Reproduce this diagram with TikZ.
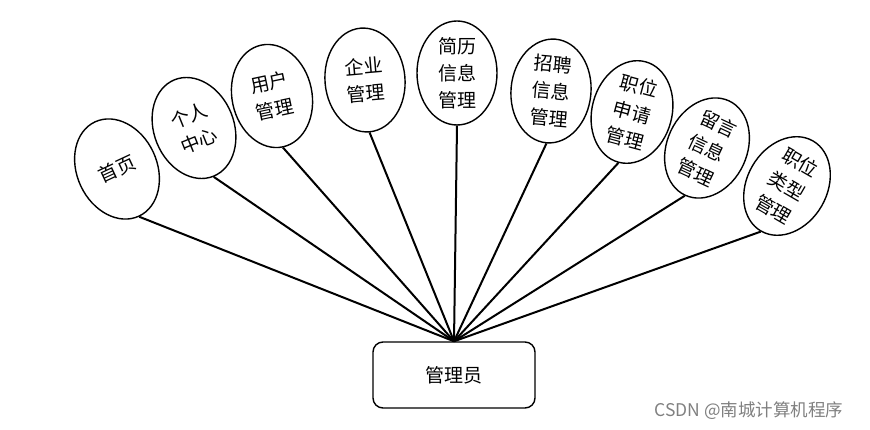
\documentclass[tikz,border=0pt]{standalone}
\usepackage{fontspec}
\setmainfont{Noto Sans CJK SC}
\usepackage{tikz}
\usetikzlibrary{shapes.geometric}

\begin{document}
\begin{tikzpicture}[
    x=1pt, y=-1pt,
    mod/.style={draw, ellipse, line width=1.4pt, inner sep=0pt, minimum width=80pt, minimum height=104pt, align=center, font=\fontsize{19}{27}\selectfont},
    box/.style={draw, line width=1.4pt, rounded corners=10pt, minimum width=162pt, minimum height=66pt, font=\fontsize{19}{22}\selectfont},
    link/.style={line width=2pt}
]
\useasboundingbox (0,0) rectangle (870,430);
\node[mod, rotate=25] (home) at (117,169) {首页};
\node[mod, rotate=22] (self) at (194,128) {个人\\中心};
\node[mod, rotate=12] (user) at (272,96) {用户\\管理};
\node[mod, rotate=5] (firm) at (365,80) {企业\\管理};
\node[mod] (resume) at (457,73) {简历\\信息\\管理};
\node[mod, rotate=-5] (hire) at (551,91) {招聘\\信息\\管理};
\node[mod, rotate=-15] (apply) at (632,112) {职位\\申请\\管理};
\node[mod, rotate=-25] (msg) at (707,148) {留言\\信息\\管理};
\node[mod, rotate=-30] (jobtype) at (787,186) {职位\\类型\\管理};
\node[box] (admin) at (454,375) {管理员};
\node[text=gray, font=\fontsize{17.5}{20}\selectfont] (mark) at (749,411) {CSDN @南城计算机程序};
\draw[link] (home.south) -- (admin.north);
\draw[link] (self.south) -- (admin.north);
\draw[link] (user.south) -- (admin.north);
\draw[link] (firm.south) -- (admin.north);
\draw[link] (resume.south) -- (admin.north);
\draw[link] (hire.south) -- (admin.north);
\draw[link] (apply.south) -- (admin.north);
\draw[link] (msg.south) -- (admin.north);
\draw[link] (jobtype.south) -- (admin.north);
\end{tikzpicture}
\end{document}
